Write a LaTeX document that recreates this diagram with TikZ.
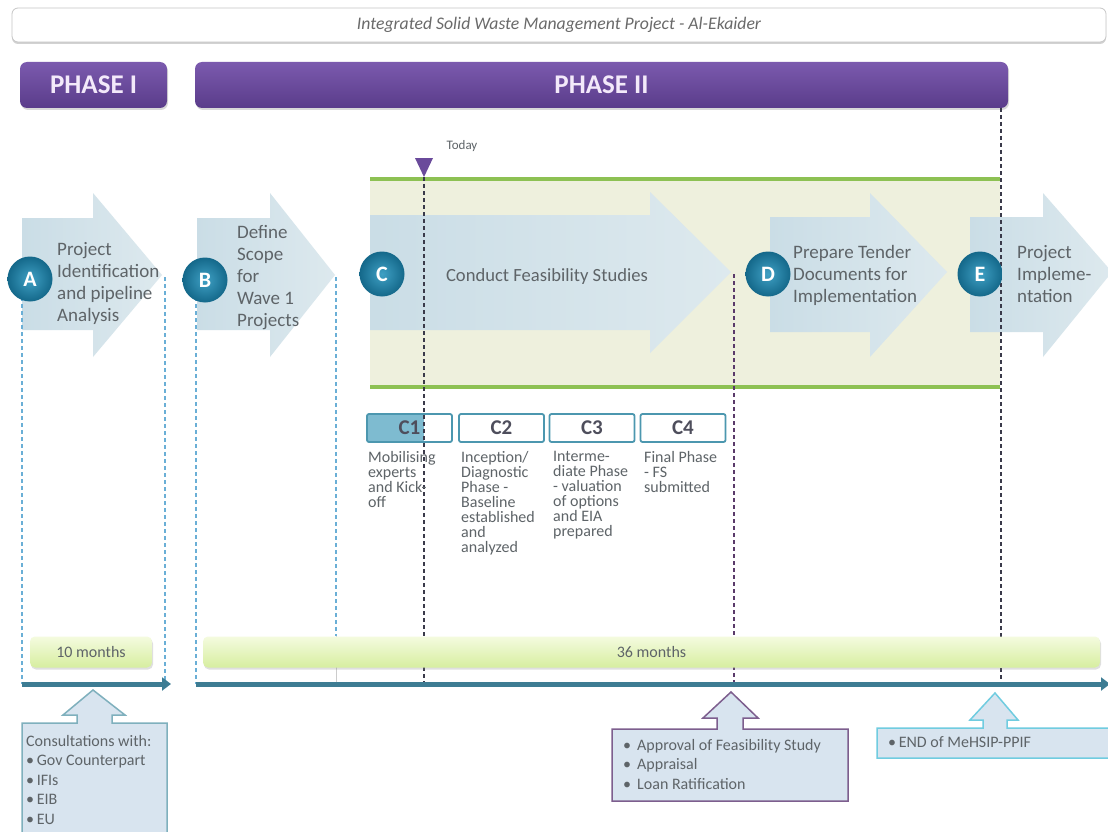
\documentclass[tikz,border=0pt]{standalone}
\usepackage{fontspec}
\setmainfont{Carlito}
\usetikzlibrary{shadows,arrows.meta}
\definecolor{phasetop}{HTML}{7B5AAE}
\definecolor{phasebot}{HTML}{5A3C8A}
\definecolor{phasetxt}{HTML}{F3E9FA}
\definecolor{titletxt}{HTML}{6A6A6A}
\definecolor{txt}{HTML}{5E6468}
\definecolor{arrowl}{HTML}{CADDE6}
\definecolor{arrowr}{HTML}{DDE9EE}
\definecolor{bandfill}{HTML}{EEF0DD}
\definecolor{bandline}{HTML}{8DC153}
\definecolor{circin}{HTML}{3FA0C4}
\definecolor{circout}{HTML}{14688A}
\definecolor{cborder}{HTML}{4C97AF}
\definecolor{cfill}{HTML}{7EBBD0}
\definecolor{bartop}{HTML}{F4FBDF}
\definecolor{barbot}{HTML}{D7EEA0}
\definecolor{axiscol}{HTML}{3D7C93}
\definecolor{bluedash}{HTML}{6AAFD6}
\definecolor{darkdash}{HTML}{3A3A4A}
\definecolor{purpdash}{HTML}{5A3A6A}
\definecolor{calfill}{HTML}{D8E4EF}
\definecolor{calA}{HTML}{7FB0BD}
\definecolor{calB}{HTML}{7D5E8E}
\definecolor{calC}{HTML}{70CCE0}
\definecolor{todaypurple}{HTML}{6A4A9B}
\tikzset{
  phasebox/.style={rounded corners=7pt, top color=phasetop, bottom color=phasebot,
    drop shadow={opacity=0.3,shadow xshift=1pt,shadow yshift=-2pt},
    text=phasetxt, font=\fontsize{27}{30}\selectfont\bfseries, inner sep=0pt},
  titlebox/.style={rounded corners=6pt, fill=white, draw=gray!45, line width=0.8pt,
    drop shadow={opacity=0.35,shadow xshift=0pt,shadow yshift=-2pt},
    text=titletxt, font=\fontsize{17.7}{20}\selectfont\itshape, inner sep=0pt},
  chev/.style={left color=arrowl, right color=arrowr},
  circ/.style={circle, minimum size=45pt, inner sep=0pt, inner color=circin, outer color=circout,
    text=white, font=\fontsize{22}{22}\selectfont\bfseries},
  steptxt/.style={anchor=north west, inner sep=0pt, align=left, text=txt,
    font=\fontsize{19}{22}\selectfont},
  subtxt/.style={anchor=north west, inner sep=0pt, align=left, text=txt,
    font=\fontsize{16}{15.1}\selectfont},
  cbox/.style={draw=cborder, line width=1.8pt, rounded corners=2pt, minimum height=28pt,
    inner sep=0pt, text=darkdash!90, font=\fontsize{21}{21}\selectfont\bfseries},
  bdash/.style={draw=bluedash, line width=1.2pt, dash pattern=on 4pt off 3pt},
  kdash/.style={draw=darkdash, line width=1.1pt, dash pattern=on 4pt off 3pt},
  pdash/.style={draw=purpdash, line width=1.1pt, dash pattern=on 4pt off 3pt},
  durbar/.style={rounded corners=5pt, top color=bartop, bottom color=barbot,
    drop shadow={opacity=0.25,shadow xshift=1pt,shadow yshift=-2pt},
    minimum height=31pt, inner sep=0pt, text=txt, font=\fontsize{16}{18}\selectfont},
  axisline/.style={draw=axiscol, line width=5pt, -{Triangle[length=9pt,width=13pt]}},
  callout/.style={fill=calfill, draw=#1, line width=1.5pt},
  caltxt/.style={anchor=north west, inner sep=0pt, align=left, text=txt,
    font=\fontsize{16}{19.5}\selectfont},
}
\begin{document}
\begin{tikzpicture}[x=1pt,y=-1pt]
\useasboundingbox (0,0) rectangle (1108,832);
\clip (0,0) rectangle (1108,832);
\fill[white] (0,0) rectangle (1108,832);

% title and phases
\node[titlebox, minimum width=1094pt, minimum height=34pt] (title) at (559,25)
  {Integrated Solid Waste Management Project - Al-Ekaider};
\node[phasebox, minimum width=147pt, minimum height=46pt] (p1) at (93.5,85) {PHASE I};
\node[phasebox, minimum width=813pt, minimum height=46pt] (p2) at (601.5,85) {PHASE II};

% band
\fill[bandfill] (370,179) rectangle (1000,387);

% step arrows
\path[chev] (22,218) -- (93,218) -- (93,193) -- (162,275) -- (93,357) -- (93,330) -- (22,330) -- cycle;
\path[chev] (197,218) -- (270,218) -- (270,193) -- (335,275) -- (270,357) -- (270,330) -- (197,330) -- cycle;
\path[chev] (370,215) -- (650,215) -- (650,192) -- (731,272) -- (650,353) -- (650,330) -- (370,330) -- cycle;
\path[chev] (770,217) -- (870,217) -- (870,193) -- (947,272) -- (870,357) -- (870,332) -- (770,332) -- cycle;
\path[chev] (970,217) -- (1043,217) -- (1043,193) -- (1112,272) -- (1043,357) -- (1043,332) -- (970,332) -- cycle;

\draw[bandline, line width=4pt] (370,179) -- (1000,179);
\draw[bandline, line width=4pt] (370,387) -- (1000,387);

% today marker
\node[text=txt, font=\fontsize{13}{15}\selectfont] (today) at (462,146) {Today};
\fill[todaypurple] (415,158) -- (433,158) -- (424,177) -- cycle;
\coordinate (todaytip) at (424,177);

% C sub boxes
\fill[white] (368,415) rectangle (452,441);
\fill[cfill] (368,415) rectangle (424,441);
\node[cbox, minimum width=85pt] (c1) at (409.5,428) {C1};
\node[cbox, minimum width=85pt, fill=white] (c2) at (501.5,428) {C2};
\node[cbox, minimum width=85pt, fill=white] (c3) at (592,428) {C3};
\node[cbox, minimum width=85pt, fill=white] (c4) at (683,428) {C4};

% guide-line start points and the axis level
\coordinate (ax) at (0,684);
\coordinate (gA) at (22,297);
\coordinate (gAe) at (165,277);
\coordinate (gB) at (196,297);
\coordinate (gBe) at (336,277);
\coordinate (gBm) at (336,636);
\coordinate (gC) at (734,274);
\coordinate (gE) at (1001,108);

% dashed guide lines
\draw[bdash] (gA) -- (gA |- ax);
\draw[bdash] (gAe) -- (gAe |- ax);
\draw[bdash] (gB) -- (gB |- ax);
\draw[bdash] (gBe) -- (gBm);
\draw[draw=gray!40, line width=1pt] (gBm) -- (gBm |- ax);
\draw[kdash] (todaytip) -- (todaytip |- ax);
\draw[pdash] (gC) -- (gC |- ax);
\draw[kdash] (gE) -- (gE |- ax);

% circles
\node[circ] (cA) at (30,279) {A};
\node[circ] (cB) at (205,280) {B};
\node[circ] (cC) at (382,274) {C};
\node[circ] (cD) at (768,274) {D};
\node[circ] (cE) at (980,274) {E};

% step texts
\node[steptxt] (tA) at (57,242) {Project\\Identification\\and pipeline\\Analysis};
\node[steptxt] (tB) at (237,225) {Define\\Scope\\for\\Wave 1\\Projects};
\node[text=txt, font=\fontsize{18.6}{20}\selectfont, inner sep=0pt] (tC) at (547,277) {Conduct Feasibility Studies};
\node[steptxt] (tD) at (793,245) {Prepare Tender\\Documents for\\Implementation};
\node[steptxt] (tE) at (1017,245) {Project\\Impleme-\\ntation};

% sub texts
\node[subtxt] (s1) at (368,451) {Mobilising\\experts\\and Kick-\\off};
\node[subtxt] (s2) at (461,451) {Inception/\\Diagnostic\\Phase -\\Baseline\\established\\and\\analyzed};
\node[subtxt] (s3) at (553,451) {Interme-\\diate Phase\\- valuation\\of options\\and EIA\\prepared};
\node[subtxt] (s4) at (644,451) {Final Phase\\- FS\\submitted};

% duration bars
\node[durbar, minimum width=122pt] (m10) at (91,652) {10 months};
\node[durbar, minimum width=897pt] (m36) at (651.5,652) {36 months};

% axis
\coordinate (a1s) at (22,684);
\coordinate (a1e) at (171,684);
\coordinate (a2s) at (196,684);
\coordinate (a2e) at (1110,684);
\draw[axisline] (a1s) -- (a1e);
\draw[axisline] (a2s) -- (a2e);

% callouts
\path[callout=calA] (22,723) -- (77,723) -- (77,715) -- (63,715) -- (93,690) -- (125,715) -- (112,715) -- (112,723) -- (167,723) -- (167,840) -- (22,840) -- cycle;
\node[caltxt] (k1) at (26,735) {Consultations with:\\\textbullet\,Gov Counterpart\\\textbullet\,IFIs\\\textbullet\,EIB\\\textbullet\,EU};

\path[callout=calB] (612,729) -- (717,729) -- (717,718) -- (703,718) -- (731,692) -- (758,718) -- (743,718) -- (743,729) -- (848,729) -- (848,801) -- (612,801) -- cycle;
\node[caltxt] (k2) at (623,739) {\makebox[14pt][l]{\textbullet}Approval of Feasibility Study\\\makebox[14pt][l]{\textbullet}Appraisal\\\makebox[14pt][l]{\textbullet}Loan Ratification};

\path[callout=calC] (877,728) -- (983,728) -- (983,720) -- (970,720) -- (995,693) -- (1018,720) -- (1007,720) -- (1007,728) -- (1115,728) -- (1115,758) -- (877,758) -- cycle;
\node[caltxt] (k3) at (888,736) {\textbullet\,END of MeHSIP-PPIF};
\end{tikzpicture}
\end{document}
